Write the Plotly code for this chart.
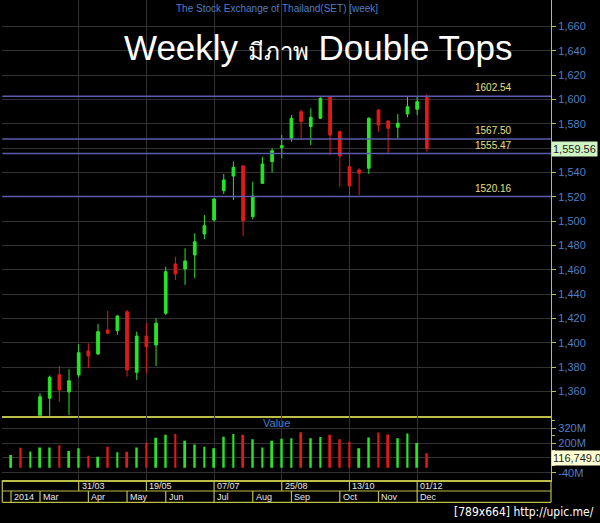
import pandas as pd
import plotly.graph_objects as go

# ---------------- data ----------------
dates = pd.date_range("2014-02-10", periods=44, freq="7D")

opens = [1290, 1302, 1297, 1318, 1354.3, 1373.7, 1359.5, 1373.5, 1393.2, 1390.7,
         1410.5, 1409.9, 1425.5, 1375.7, 1405.5, 1398.1, 1424.2, 1464.7, 1460.6, 1472.1,
         1489.4, 1500.9, 1525.0, 1537.0, 1545.3, 1503.6, 1531.0, 1548.8, 1560.3, 1568.0,
         1589.9, 1577.6, 1584.5, 1602.2, 1573.5, 1544.7, 1542.0, 1543.4, 1591.3, 1582.2,
         1577.1, 1588.0, 1591.9, 1601.7]
highs = [1305, 1311, 1322, 1358.4, 1373.0, 1380.9, 1378.2, 1398.7, 1399.5, 1415.4,
         1426.3, 1422.5, 1426.9, 1409.1, 1416.0, 1420.0, 1462.5, 1470.7, 1477.6, 1490.0,
         1505.0, 1518.7, 1538.7, 1548.8, 1546.0, 1532.4, 1552.9, 1559.8, 1570.7, 1587.2,
         1591.9, 1592.7, 1601.7, 1602.8, 1574.3, 1555.7, 1543.4, 1585.3, 1591.9, 1583.0,
         1588.0, 1602.8, 1602.8, 1604.4]
lows = [1284, 1291, 1294, 1314, 1335.0, 1351.5, 1340.6, 1371.6, 1379.0, 1390.0,
        1407.0, 1406.4, 1372.1, 1369.4, 1374.8, 1380.9, 1422.8, 1451.6, 1447.5, 1453.0,
        1485.0, 1499.5, 1522.2, 1517.3, 1487.7, 1501.5, 1530.5, 1539.8, 1551.6, 1565.2,
        1567.2, 1562.5, 1584.0, 1554.3, 1528.2, 1520.0, 1521.4, 1538.7, 1573.5, 1556.2,
        1568.0, 1585.3, 1587.2, 1557.0]
closes = [1300, 1296, 1317, 1355.6, 1371.6, 1361.2, 1368.8, 1391.8, 1389.1, 1409.1,
          1407.8, 1422.0, 1377.6, 1405.5, 1396.7, 1416.0, 1458.4, 1456.5, 1467.2, 1483.0,
          1496.2, 1518.1, 1533.8, 1544.2, 1500.3, 1520.6, 1546.9, 1557.8, 1562.0, 1584.5,
          1581.7, 1585.3, 1600.9, 1570.7, 1553.5, 1528.8, 1539.3, 1584.5, 1579.0, 1576.2,
          1580.4, 1594.0, 1598.1, 1559.56]
values_m = [104, 163, 131, 164, 164, 182, 135, 159, 98, 90,
            170, 126, 129, 164, 204, 244, 268, 274, 219, 188,
            171, 159, 251, 274, 267, 232, 164, 219, 235, 240,
            288, 240, 249, 267, 232, 210, 159, 245, 286, 270,
            240, 278, 200, 116.749]

levels = [1602.54, 1567.50, 1555.47, 1520.16]
price_ticks = [1360, 1380, 1400, 1420, 1440, 1460, 1480, 1500, 1520, 1540,
               1560, 1580, 1600, 1620, 1640, 1660]
value_ticks = [-40, 80, 200, 320]

# ---------------- styling helpers ----------------
W, H = 600, 523
def fx(px):
    return px / W
def fy(py):
    return 1 - py / H

X0, X1 = 2.3, 551
Y_MAIN_BOT = 415.7
Y_VOL_BOT = 480
Y_ROW_MID = 491
Y_ROW_BOT = 502.3

YEL = "#bdbd4a"
GRID = "#323232"
BLUE_TXT = "#4f7fc4"
GREEN = "#26e626"
RED = "#e41818"
LVL = "#5c5cae"

week = pd.Timedelta(days=7)
xr = [dates[0] - 0.9 * week, dates[0] + 55.84 * week]
grid_dates = list(dates[7::7])

vol_colors = []
for i, c in enumerate(closes):
    prev = closes[i - 1] if i > 0 else opens[i]
    vol_colors.append(GREEN if c >= prev else RED)

fig = go.Figure()
fig.add_trace(go.Candlestick(
    x=dates, open=opens, high=highs, low=lows, close=closes,
    increasing=dict(line=dict(color=GREEN, width=1), fillcolor=GREEN),
    decreasing=dict(line=dict(color=RED, width=1), fillcolor=RED),
    whiskerwidth=0, xaxis="x", yaxis="y", hoverinfo="skip", showlegend=False))
fig.add_trace(go.Bar(
    x=dates, y=values_m, marker=dict(color=vol_colors, line=dict(width=0)),
    width=0.2 * week.total_seconds() * 1000, xaxis="x2", yaxis="y2",
    hoverinfo="skip", showlegend=False))

shapes = []
annotations = []

# support / resistance levels
for lv in levels:
    shapes.append(dict(type="line", xref="paper", yref="y", x0=fx(X0), x1=fx(X1),
                       y0=lv, y1=lv, line=dict(color=LVL, width=1.6), layer="above"))
    annotations.append(dict(xref="paper", yref="y", x=fx(493), y=lv, text=f"{lv:.2f}",
                            showarrow=False, xanchor="center", yanchor="bottom", yshift=1,
                            font=dict(color="#e6e27a", size=10, family="Arial")))

# bottom boxed time axis
for yy in [Y_ROW_MID, Y_ROW_BOT]:
    shapes.append(dict(type="line", xref="paper", yref="paper", x0=fx(X0), x1=fx(X1),
                       y0=fy(yy), y1=fy(yy), line=dict(color=YEL, width=1.2)))
for xx in [X0, X1]:
    shapes.append(dict(type="line", xref="paper", yref="paper", x0=fx(xx), x1=fx(xx),
                       y0=fy(Y_VOL_BOT), y1=fy(Y_ROW_BOT), line=dict(color=YEL, width=1.2)))
for d in grid_dates:
    shapes.append(dict(type="line", xref="x", yref="paper", x0=d, x1=d,
                       y0=fy(Y_VOL_BOT), y1=fy(Y_ROW_MID), line=dict(color=YEL, width=1.2)))
    annotations.append(dict(xref="x", yref="paper", x=d, y=fy((Y_VOL_BOT + Y_ROW_MID) / 2),
                            text=d.strftime("%d/%m"), showarrow=False, xanchor="left",
                            yanchor="middle", xshift=1,
                            font=dict(color="#e8e8e8", size=9, family="Arial")))
month_marks = []
for i, d in enumerate(dates):
    if i == 0:
        month_marks.append((d, d.strftime("%Y")))
    elif d.month != dates[i - 1].month:
        month_marks.append((d, d.strftime("%b")))
for d, lab in month_marks:
    shapes.append(dict(type="line", xref="x", yref="paper", x0=d, x1=d,
                       y0=fy(Y_ROW_MID), y1=fy(Y_ROW_BOT), line=dict(color=YEL, width=1.2)))
    annotations.append(dict(xref="x", yref="paper", x=d, y=fy((Y_ROW_MID + Y_ROW_BOT) / 2),
                            text=lab, showarrow=False, xanchor="left", yanchor="middle",
                            xshift=1, font=dict(color="#e8e8e8", size=9, family="Arial")))

# titles and labels
annotations.append(dict(xref="paper", yref="paper", x=fx((X0 + X1) / 2), y=fy(9),
                        text="The Stock Exchange of Thailand(SET) [week]", showarrow=False,
                        xanchor="center", yanchor="middle",
                        font=dict(color=BLUE_TXT, size=10, family="Arial")))
annotations.append(dict(xref="paper", yref="paper", x=fx(318), y=fy(48),
                        text="Weekly <span style='font-size:24px'>มีภาพ</span> Double Tops",
                        showarrow=False, xanchor="center", yanchor="middle",
                        font=dict(color="white", size=35, family="Arial, Liberation Sans")))
annotations.append(dict(xref="paper", yref="paper", x=fx((X0 + X1) / 2), y=fy(422.5),
                        text="Value", showarrow=False, xanchor="center", yanchor="middle",
                        font=dict(color=BLUE_TXT, size=11, family="Arial")))
annotations.append(dict(xref="paper", yref="y", x=fx(X1), y=closes[-1], xanchor="left",
                        yanchor="middle",
                        text=f"{closes[-1]:,.2f}", showarrow=False, bgcolor="#cff5c4",
                        borderpad=1, font=dict(color="#222", size=11, family="Arial")))
annotations.append(dict(xref="paper", yref="y2", x=fx(X1), y=80, xanchor="left",
                        yanchor="middle",
                        text=f"{values_m[-1] * 1000:,.1f}", showarrow=False, bgcolor="#ffffd2",
                        borderpad=1, font=dict(color="#222", size=11, family="Arial")))
annotations.append(dict(xref="paper", yref="paper", x=fx(596), y=fy(512), xanchor="right",
                        yanchor="middle",
                        text="[789x664] http://upic.me/", showarrow=False,
                        font=dict(color="white", size=12, family="DejaVu Sans Condensed")))

fig.update_layout(
    width=W, height=H, margin=dict(l=0, r=0, t=0, b=0),
    paper_bgcolor="black", plot_bgcolor="black",
    boxgap=0.6, hovermode=False,
    shapes=shapes, annotations=annotations,
    xaxis=dict(domain=[fx(X0), fx(X1)], anchor="y", range=xr, tickvals=grid_dates,
               showticklabels=False, showgrid=True, gridcolor=GRID, zeroline=False,
               showline=True, linecolor=YEL, linewidth=1.5, mirror=False,
               rangeslider=dict(visible=False), ticks=""),
    xaxis2=dict(domain=[fx(X0), fx(X1)], anchor="y2", matches="x", range=xr,
                tickvals=grid_dates, showticklabels=False, showgrid=True, gridcolor=GRID,
                zeroline=False, showline=True, linecolor=YEL, linewidth=1.5, ticks=""),
    yaxis=dict(domain=[fy(Y_MAIN_BOT), 1], anchor="x", side="right", range=[1340, 1681.7],
               tickvals=price_ticks, ticktext=[f"{v:,}" for v in price_ticks],
               tickfont=dict(color=BLUE_TXT, size=11, family="Arial"),
               ticks="outside", ticklen=4, tickcolor=YEL, showline=True, linecolor=YEL,
               linewidth=1.2, showgrid=True, gridcolor=GRID, zeroline=False),
    yaxis2=dict(domain=[fy(Y_VOL_BOT), fy(Y_MAIN_BOT)], anchor="x2", side="right",
                range=[-99, 422], tickvals=value_ticks,
                ticktext=[f"{v}M" for v in value_ticks],
                tickfont=dict(color=BLUE_TXT, size=11, family="Arial"),
                ticks="outside", ticklen=4, tickcolor=YEL, showline=True, linecolor=YEL,
                linewidth=1.2, showgrid=True, gridcolor=GRID, zeroline=False,
                minor=dict(ticks="outside", ticklen=3, tickcolor=YEL, dtick=60, tick0=-40,
                           showgrid=False)),
)

fig.write_html("out.html", config={"displayModeBar": False},
               post_script="document.body.style.margin='0';")
